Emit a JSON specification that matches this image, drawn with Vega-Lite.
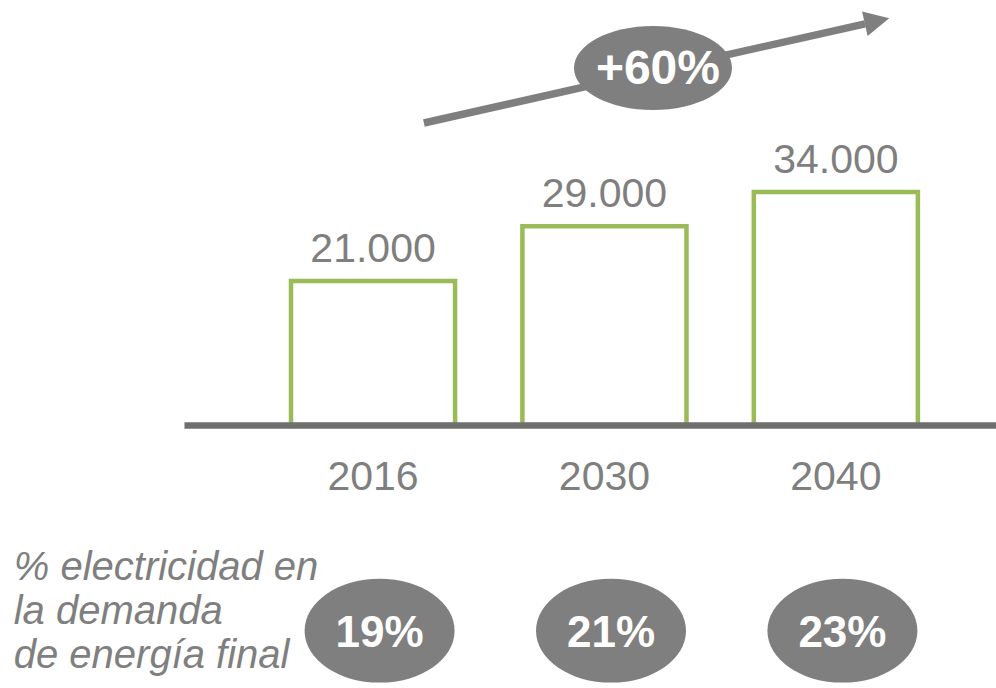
{
  "$schema": "https://vega.github.io/schema/vega-lite/v6.json",
  "width": 812,
  "height": 425,
  "autosize": {"type": "none"},
  "padding": {"left": 184, "top": 0, "right": 0, "bottom": 263},
  "background": "white",
  "config": {"view": {"stroke": null}, "font": "Liberation Sans"},
  "data": {"values": [
    {"year": "2016", "value": 21000, "label": "21.000", "share": "19%"},
    {"year": "2030", "value": 29000, "label": "29.000", "share": "21%"},
    {"year": "2040", "value": 34000, "label": "34.000", "share": "23%"}
  ]},
  "layer": [
    {
      "mark": {"type": "bar", "fill": "white", "stroke": "#9bbb59", "strokeWidth": 4.5},
      "encoding": {
        "x": {
          "field": "year", "type": "nominal",
          "scale": {"paddingInner": 0.291, "paddingOuter": 0.4, "align": 0.578, "round": false},
          "axis": {"title": null, "domainColor": "#6f6f6f", "domainWidth": 6.5, "ticks": false, "tickSize": 0,
                   "labelFontSize": 41, "labelColor": "#7f7f7f", "labelFont": "Liberation Sans",
                   "labelPadding": 64, "labelBaseline": "alphabetic", "labelAngle": 0, "zindex": 1, "grid": false}
        },
        "y": {"field": "value", "type": "quantitative", "scale": {"domain": [0, 62000], "nice": false}, "axis": null}
      }
    },
    {
      "mark": {"type": "text", "fontSize": 41, "color": "#7f7f7f", "baseline": "alphabetic", "align": "center", "dy": -19},
      "encoding": {
        "x": {"field": "year", "type": "nominal"},
        "y": {"field": "value", "type": "quantitative"},
        "text": {"field": "label"}
      }
    },
    {
      "data": {"values": [{}]},
      "mark": {"type": "rule", "color": "#7f7f7f", "strokeWidth": 7.5},
      "encoding": {
        "x": {"datum": "2016", "bandPosition": 0.81},
        "y": {"datum": 44055},
        "x2": {"datum": "2040", "bandPosition": 0.678},
        "y2": {"datum": 58527}
      }
    },
    {
      "data": {"values": [{}]},
      "mark": {"type": "point", "shape": "M -1 -1 L 1 0 L -1 1 Z", "filled": true, "color": "#7f7f7f", "opacity": 1, "size": 625, "angle": -12.8, "strokeWidth": 0},
      "encoding": {
        "x": {"datum": "2040", "bandPosition": 0.751},
        "y": {"datum": 58935}
      }
    },
    {
      "data": {"values": [{}]},
      "mark": {"type": "point", "shape": "M -1 0 C -1 -0.294 -0.552 -0.532 0 -0.532 C 0.552 -0.532 1 -0.294 1 0 C 1 0.294 0.552 0.532 0 0.532 C -0.552 0.532 -1 0.294 -1 0 Z", "filled": true, "color": "#7f7f7f", "opacity": 1, "size": 24964, "strokeWidth": 0},
      "encoding": {
        "x": {"datum": "2030", "bandPosition": 0.796},
        "y": {"datum": 52079}
      }
    },
    {
      "data": {"values": [{}]},
      "mark": {"type": "text", "text": "+60%", "fontSize": 48, "fontWeight": "bold", "color": "white", "baseline": "middle", "align": "center", "dy": 2},
      "encoding": {
        "x": {"datum": "2030", "bandPosition": 0.826},
        "y": {"datum": 52079}
      }
    },
    {
      "mark": {"type": "point", "shape": "M -1 0 C -1 -0.383 -0.552 -0.693 0 -0.693 C 0.552 -0.693 1 -0.383 1 0 C 1 0.383 0.552 0.693 0 0.693 C -0.552 0.693 -1 0.383 -1 0 Z", "filled": true, "color": "#7f7f7f", "opacity": 1, "size": 22500, "strokeWidth": 0},
      "encoding": {
        "x": {"field": "year", "type": "nominal", "bandPosition": 0.54},
        "y": {"datum": -30000}
      }
    },
    {
      "mark": {"type": "text", "fontSize": 44, "fontWeight": "bold", "color": "white", "baseline": "middle", "align": "center", "dy": 3},
      "encoding": {
        "x": {"field": "year", "type": "nominal", "bandPosition": 0.54},
        "y": {"datum": -30000},
        "text": {"field": "share"}
      }
    },
    {
      "data": {"values": [{}]},
      "mark": {"type": "text", "text": ["% electricidad en", "la demanda", "de energía final"], "fontSize": 40, "fontStyle": "italic", "color": "#7f7f7f", "baseline": "alphabetic", "align": "left", "lineHeight": 44},
      "encoding": {
        "x": {"datum": "2016", "bandPosition": -1.69},
        "y": {"datum": -22611}
      }
    }
  ]
}
